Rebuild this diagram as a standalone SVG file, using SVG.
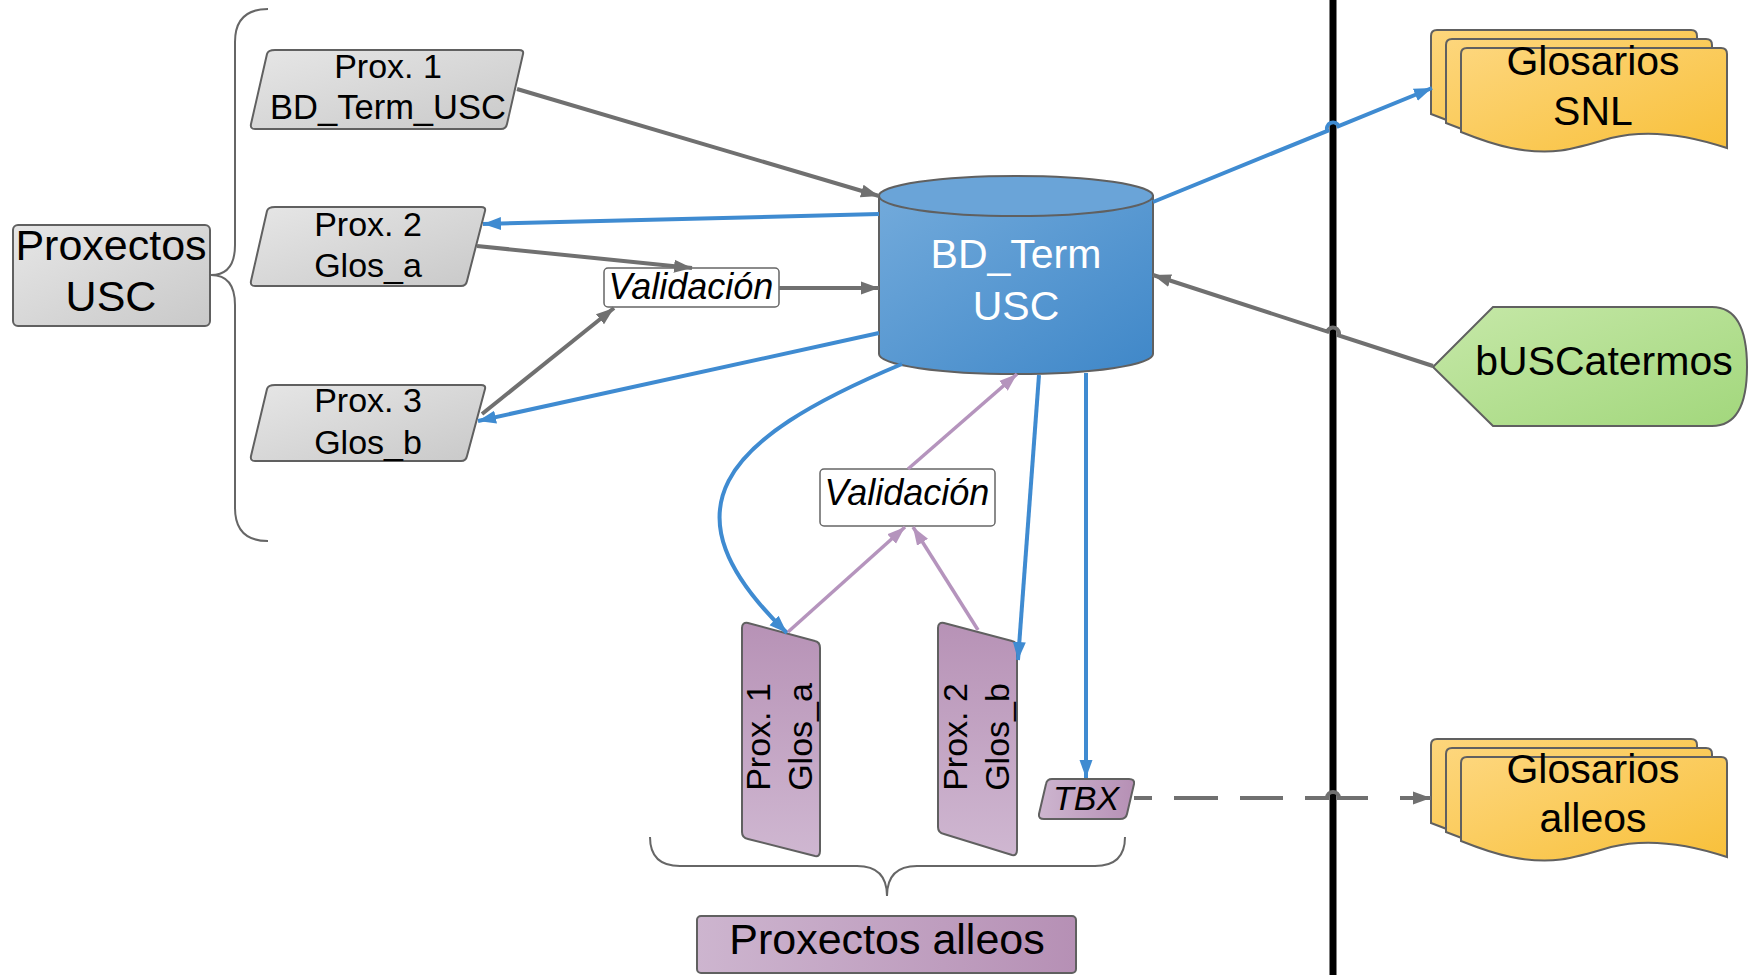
<svg xmlns="http://www.w3.org/2000/svg" width="1750" height="975" viewBox="0 0 1750 975">
<defs>
<linearGradient id="gGray" x1="0" y1="0" x2="1" y2="1"><stop offset="0" stop-color="#e6e6e6"/><stop offset="1" stop-color="#c9c9c9"/></linearGradient>
<linearGradient id="gBlue" x1="0" y1="0" x2="1" y2="1"><stop offset="0" stop-color="#72aadb"/><stop offset="1" stop-color="#3f87c8"/></linearGradient>
<linearGradient id="gPurpleV" x1="0" y1="0" x2="0" y2="1"><stop offset="0" stop-color="#b792b6"/><stop offset="1" stop-color="#cfb7d1"/></linearGradient>
<linearGradient id="gPurpleH" x1="0" y1="0" x2="1" y2="0"><stop offset="0" stop-color="#cdb5cf"/><stop offset="1" stop-color="#b690b5"/></linearGradient>
<linearGradient id="gOrange" x1="0" y1="0" x2="1" y2="1"><stop offset="0" stop-color="#fdd67c"/><stop offset="1" stop-color="#f8c03a"/></linearGradient>
<linearGradient id="gGreen" x1="0" y1="0" x2="1" y2="1"><stop offset="0" stop-color="#c6e8a8"/><stop offset="1" stop-color="#a2d77c"/></linearGradient>
<marker id="aGray" markerUnits="userSpaceOnUse" markerWidth="19" markerHeight="15" refX="18" refY="7.5" orient="auto"><path d="M0,1 L18,7.5 L0,14 z" fill="#707070"/></marker>
<marker id="aBlue" markerUnits="userSpaceOnUse" markerWidth="19" markerHeight="15" refX="18" refY="7.5" orient="auto"><path d="M0,1 L18,7.5 L0,14 z" fill="#3f8bd1"/></marker>
<marker id="aPurple" markerUnits="userSpaceOnUse" markerWidth="19" markerHeight="15" refX="18" refY="7.5" orient="auto"><path d="M0,1 L18,7.5 L0,14 z" fill="#b594bd"/></marker>
<path id="doc" d="M0,6 Q0,0 6,0 H260 Q266,0 266,6 V100 C230,88 190,80 150,90 C110,102 90,108 50,100 C30,96 15,90 0,84 Z"/>
</defs>
<style>
text{font-family:"Liberation Sans",Arial,sans-serif;fill:#000}
.n{stroke:#606060;stroke-width:2}
.t34{font-size:34px}
.t41{font-size:41px}
.t43{font-size:43px}
.it{font-style:italic}
.c{fill:none;stroke-width:4}
.gray{stroke:#707070}
.blue{stroke:#3f8bd1}
.purple{stroke:#b594bd;stroke-width:3.5}
.brace{fill:none;stroke:#666;stroke-width:2}
</style>
<rect width="1750" height="975" fill="#fff"/>

<g id="separator"><line x1="1333" y1="0" x2="1333" y2="975" stroke="#000" stroke-width="7"/></g>

<g id="braces">
<path class="brace" d="M268,9 Q235,9 235,42 V245 Q235,275 211,275 Q235,275 235,305 V508 Q235,541 268,541"/>
<path class="brace" d="M650,837 Q650,866 680,866 H857 Q887,866 887,896 Q887,866 917,866 H1095 Q1125,866 1125,837"/>
</g>

<g id="proxectos-usc">
<rect class="n" x="13" y="225" width="197" height="101" rx="5" fill="url(#gGray)"/>
<text class="t43" text-anchor="middle" x="111" y="260">Proxectos</text>
<text class="t43" text-anchor="middle" x="111" y="311">USC</text>
</g>

<g id="prox1-usc">
<path class="n" fill="url(#gGray)" d="M275,50 H519 Q524,50 523,54 L507,124 Q506,129 501,129 H255 Q250,129 251,124 L267,54 Q268,50 275,50 Z"/>
<text class="t34" text-anchor="middle" x="388" y="78">Prox. 1</text>
<text class="t34" text-anchor="middle" x="388" y="119" style="font-size:34.5px">BD_Term_USC</text>
</g>

<g id="prox2-usc">
<path class="n" fill="url(#gGray)" d="M275,207 H481 Q486,207 485,211 L467,281 Q466,286 461,286 H255 Q250,286 251,281 L267,211 Q268,207 275,207 Z"/>
<text class="t34" text-anchor="middle" x="368" y="236">Prox. 2</text>
<text class="t34" text-anchor="middle" x="368" y="277">Glos_a</text>
</g>

<g id="prox3-usc">
<path class="n" fill="url(#gGray)" d="M275,385 H481 Q486,385 485,389 L467,456 Q466,461 461,461 H255 Q250,461 251,456 L267,389 Q268,385 275,385 Z"/>
<text class="t34" text-anchor="middle" x="368" y="412">Prox. 3</text>
<text class="t34" text-anchor="middle" x="368" y="454">Glos_b</text>
</g>

<g id="bd-term-usc">
<path class="n" fill="url(#gBlue)" d="M879,196 V354 A137,20 0 0 0 1153,354 V196 Z"/>
<ellipse class="n" cx="1016" cy="196" rx="137" ry="20" fill="#6aa4d8"/>
<text class="t41" text-anchor="middle" x="1016" y="268" style="fill:#fff">BD_Term</text>
<text class="t41" text-anchor="middle" x="1016" y="320" style="fill:#fff">USC</text>
</g>

<g id="validacion-1">
<rect x="604" y="268" width="175" height="39" rx="4" fill="#fff" stroke="#666" stroke-width="1.5"/>
<text class="it" text-anchor="middle" x="691" y="299" style="font-size:36px">Validación</text>
</g>

<g id="validacion-2">
<rect x="820" y="469" width="175" height="57" rx="4" fill="#fff" stroke="#666" stroke-width="1.5"/>
<text class="it" text-anchor="middle" x="907" y="505" style="font-size:36px">Validación</text>
</g>

<g id="prox1-alleo">
<path class="n" fill="url(#gPurpleV)" d="M748,623 L815,641 Q820,642 820,648 V851 Q820,857 815,856 L748,839 Q742,838 742,832 V628 Q742,622 748,623 Z"/>
<text class="t34" transform="translate(781,737) rotate(-90)" text-anchor="middle" y="-11">Prox. 1</text>
<text class="t34" transform="translate(781,737) rotate(-90)" text-anchor="middle" y="31">Glos_a</text>
</g>

<g id="prox2-alleo">
<path class="n" fill="url(#gPurpleV)" d="M944,623 L1012,641 Q1017,642 1017,648 V850 Q1017,856 1012,855 L944,834 Q938,833 938,827 V628 Q938,622 944,623 Z"/>
<text class="t34" transform="translate(978,737) rotate(-90)" text-anchor="middle" y="-11">Prox. 2</text>
<text class="t34" transform="translate(978,737) rotate(-90)" text-anchor="middle" y="31">Glos_b</text>
</g>

<g id="tbx">
<path class="n" fill="url(#gPurpleH)" d="M1052,779 H1129 Q1135,779 1134,784 L1127,814 Q1126,819 1120,819 H1044 Q1038,819 1039,814 L1046,784 Q1047,779 1052,779 Z"/>
<text class="t34 it" text-anchor="middle" x="1086" y="810">TBX</text>
</g>

<g id="proxectos-alleos">
<rect class="n" x="697" y="916" width="379" height="57" rx="4" fill="url(#gPurpleH)"/>
<text class="t43" text-anchor="middle" x="887" y="954">Proxectos alleos</text>
</g>

<g id="glosarios-snl">
<use href="#doc" x="1431" y="30" class="n" fill="url(#gOrange)"/>
<use href="#doc" x="1446" y="39" class="n" fill="url(#gOrange)"/>
<use href="#doc" x="1461" y="48" class="n" fill="url(#gOrange)"/>
<text class="t41" text-anchor="middle" x="1593" y="75">Glosarios</text>
<text class="t41" text-anchor="middle" x="1593" y="125">SNL</text>
</g>

<g id="buscatermos">
<path class="n" fill="url(#gGreen)" d="M1433,367 L1493,307 H1712 Q1747,307 1747,367 Q1747,426 1712,426 H1493 Z"/>
<text class="t41" text-anchor="middle" x="1604" y="375">bUSCatermos</text>
</g>

<g id="glosarios-alleos">
<use href="#doc" x="1431" y="739" class="n" fill="url(#gOrange)"/>
<use href="#doc" x="1446" y="748" class="n" fill="url(#gOrange)"/>
<use href="#doc" x="1461" y="757" class="n" fill="url(#gOrange)"/>
<text class="t41" text-anchor="middle" x="1593" y="783">Glosarios</text>
<text class="t41" text-anchor="middle" x="1593" y="832">alleos</text>
</g>

<g id="connectors">
<path class="c gray" d="M517,89 L879,196" marker-end="url(#aGray)"/>
<path class="c blue" d="M879,214 L483,224" marker-end="url(#aBlue)"/>
<path class="c gray" d="M477,246 L692,268" marker-end="url(#aGray)"/>
<path class="c gray" d="M779,288 L879,288" marker-end="url(#aGray)"/>
<path class="c gray" d="M482,414 L614,308" marker-end="url(#aGray)"/>
<path class="c blue" d="M879,333 L478,421" marker-end="url(#aBlue)"/>
<path class="c blue" d="M1153,202 L1327.4,130.8 A6,6 0 0 1 1338.6,126.2 L1432,88" marker-end="url(#aBlue)"/>
<path class="c gray" d="M1433,366 L1338.7,335.4 A6,6 0 0 0 1327.3,331.6 L1153,275" marker-end="url(#aGray)"/>
<path class="c gray" d="M1134,798 H1152 M1174,798 H1218 M1240,798 H1283 M1305,798 H1327 A6,6 0 0 1 1339,798 H1368 M1400,798 H1431" marker-end="url(#aGray)"/>
<path class="c blue" d="M902,364 C720,440 660,510 787,633" marker-end="url(#aBlue)"/>
<path class="c purple" d="M788,632 L905,527" marker-end="url(#aPurple)"/>
<path class="c purple" d="M978,630 L913,527" marker-end="url(#aPurple)"/>
<path class="c purple" d="M908,469 L1017,374" marker-end="url(#aPurple)"/>
<path class="c blue" d="M1039,375 L1018,660" marker-end="url(#aBlue)"/>
<path class="c blue" d="M1086,373 L1086,778" marker-end="url(#aBlue)"/>
</g>
</svg>
